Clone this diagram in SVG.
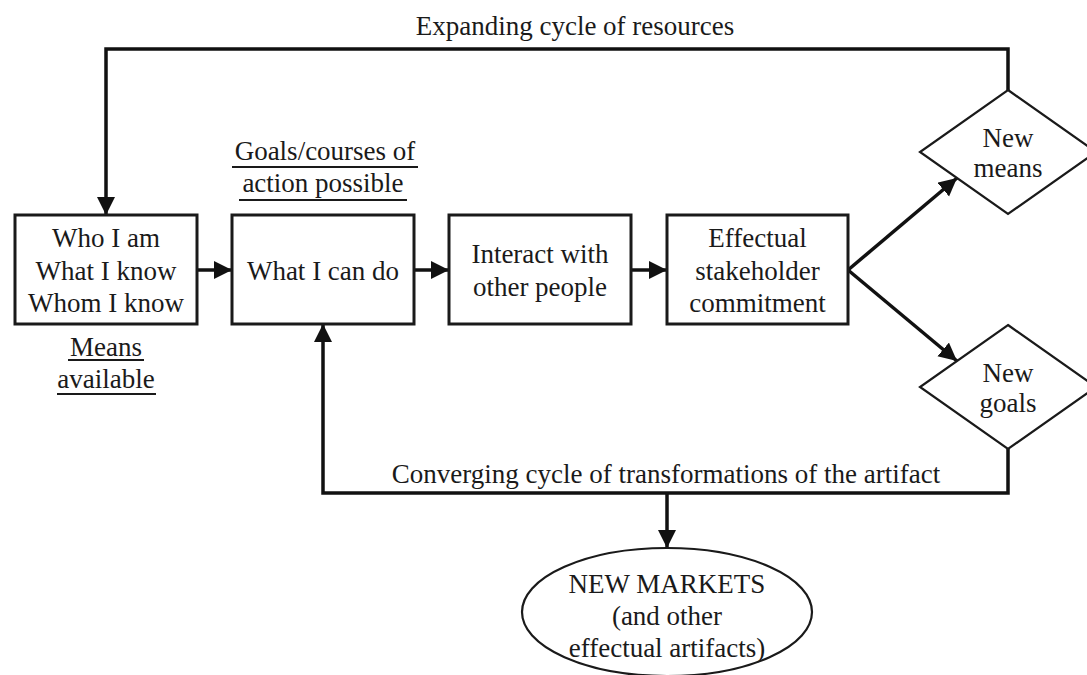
<svg xmlns="http://www.w3.org/2000/svg" width="1087" height="675" viewBox="0 0 1087 675">
<defs>
<marker id="ah" markerUnits="userSpaceOnUse" markerWidth="19" markerHeight="19" refX="18" refY="9" orient="auto">
<path d="M0,0 L18,9 L0,18 z" fill="#111"/>
</marker>
<style>
text{font-family:"Liberation Serif","Times New Roman",serif;font-size:27px;fill:#1a1a1a;text-anchor:middle}
.box{fill:#fff;stroke:#1a1a1a;stroke-width:3}
.dia{fill:#fff;stroke:#1a1a1a;stroke-width:2.2}
.con{fill:none;stroke:#111;stroke-width:3.5}
.ul{stroke:#1a1a1a;stroke-width:2}
</style>
</defs>
<rect width="1087" height="675" fill="#fff"/>
<g id="connectors">
<line class="con" x1="197" y1="270" x2="232" y2="270" marker-end="url(#ah)"/>
<line class="con" x1="414" y1="270" x2="449" y2="270" marker-end="url(#ah)"/>
<line class="con" x1="631" y1="270" x2="667" y2="270" marker-end="url(#ah)"/>
<line class="con" x1="848" y1="270" x2="957" y2="178" marker-end="url(#ah)"/>
<line class="con" x1="848" y1="270" x2="957" y2="361" marker-end="url(#ah)"/>
<polyline class="con" points="1008,90 1008,49 106,49 106,215" marker-end="url(#ah)"/>
<polyline class="con" points="1008,449 1008,493 323,493 323,324" marker-end="url(#ah)"/>
<line class="con" x1="667" y1="493" x2="667" y2="548" marker-end="url(#ah)"/>
<text x="575" y="35">Expanding cycle of resources</text>
<text x="666" y="483">Converging cycle of transformations of the artifact</text>
</g>
<g id="means-available">
<rect class="box" x="15" y="215" width="182" height="109"/>
<text x="106" y="247">Who I am</text>
<text x="106" y="280">What I know</text>
<text x="106" y="312">Whom I know</text>
<text x="106" y="356">Means</text>
<line class="ul" x1="68" y1="360" x2="144" y2="360"/>
<text x="106" y="388">available</text>
<line class="ul" x1="57" y1="394" x2="156" y2="394"/>
</g>
<g id="what-i-can-do">
<text x="325" y="160">Goals/courses of</text>
<line class="ul" x1="232" y1="167" x2="418" y2="167"/>
<text x="323" y="192">action possible</text>
<line class="ul" x1="239" y1="200" x2="407" y2="200"/>
<rect class="box" x="232" y="215" width="182" height="109"/>
<text x="323" y="280">What I can do</text>
</g>
<g id="interact">
<rect class="box" x="449" y="215" width="182" height="109"/>
<text x="540" y="263">Interact with</text>
<text x="540" y="296">other people</text>
</g>
<g id="commitment">
<rect class="box" x="667" y="215" width="181" height="109"/>
<text x="757.5" y="247">Effectual</text>
<text x="757.5" y="280">stakeholder</text>
<text x="757.5" y="312">commitment</text>
</g>
<g id="new-means">
<polygon class="dia" points="1008,90 1096,152 1008,214 920,152"/>
<text x="1008" y="147">New</text>
<text x="1008" y="177">means</text>
</g>
<g id="new-goals">
<polygon class="dia" points="1008,325 1096,387 1008,449 920,387"/>
<text x="1008" y="382">New</text>
<text x="1008" y="412">goals</text>
</g>
<g id="new-markets">
<ellipse cx="667" cy="612" rx="145" ry="64" fill="#fff" stroke="#1a1a1a" stroke-width="2.2"/>
<text x="667" y="593">NEW MARKETS</text>
<text x="667" y="625">(and other</text>
<text x="667" y="657">effectual artifacts)</text>
</g>
</svg>
